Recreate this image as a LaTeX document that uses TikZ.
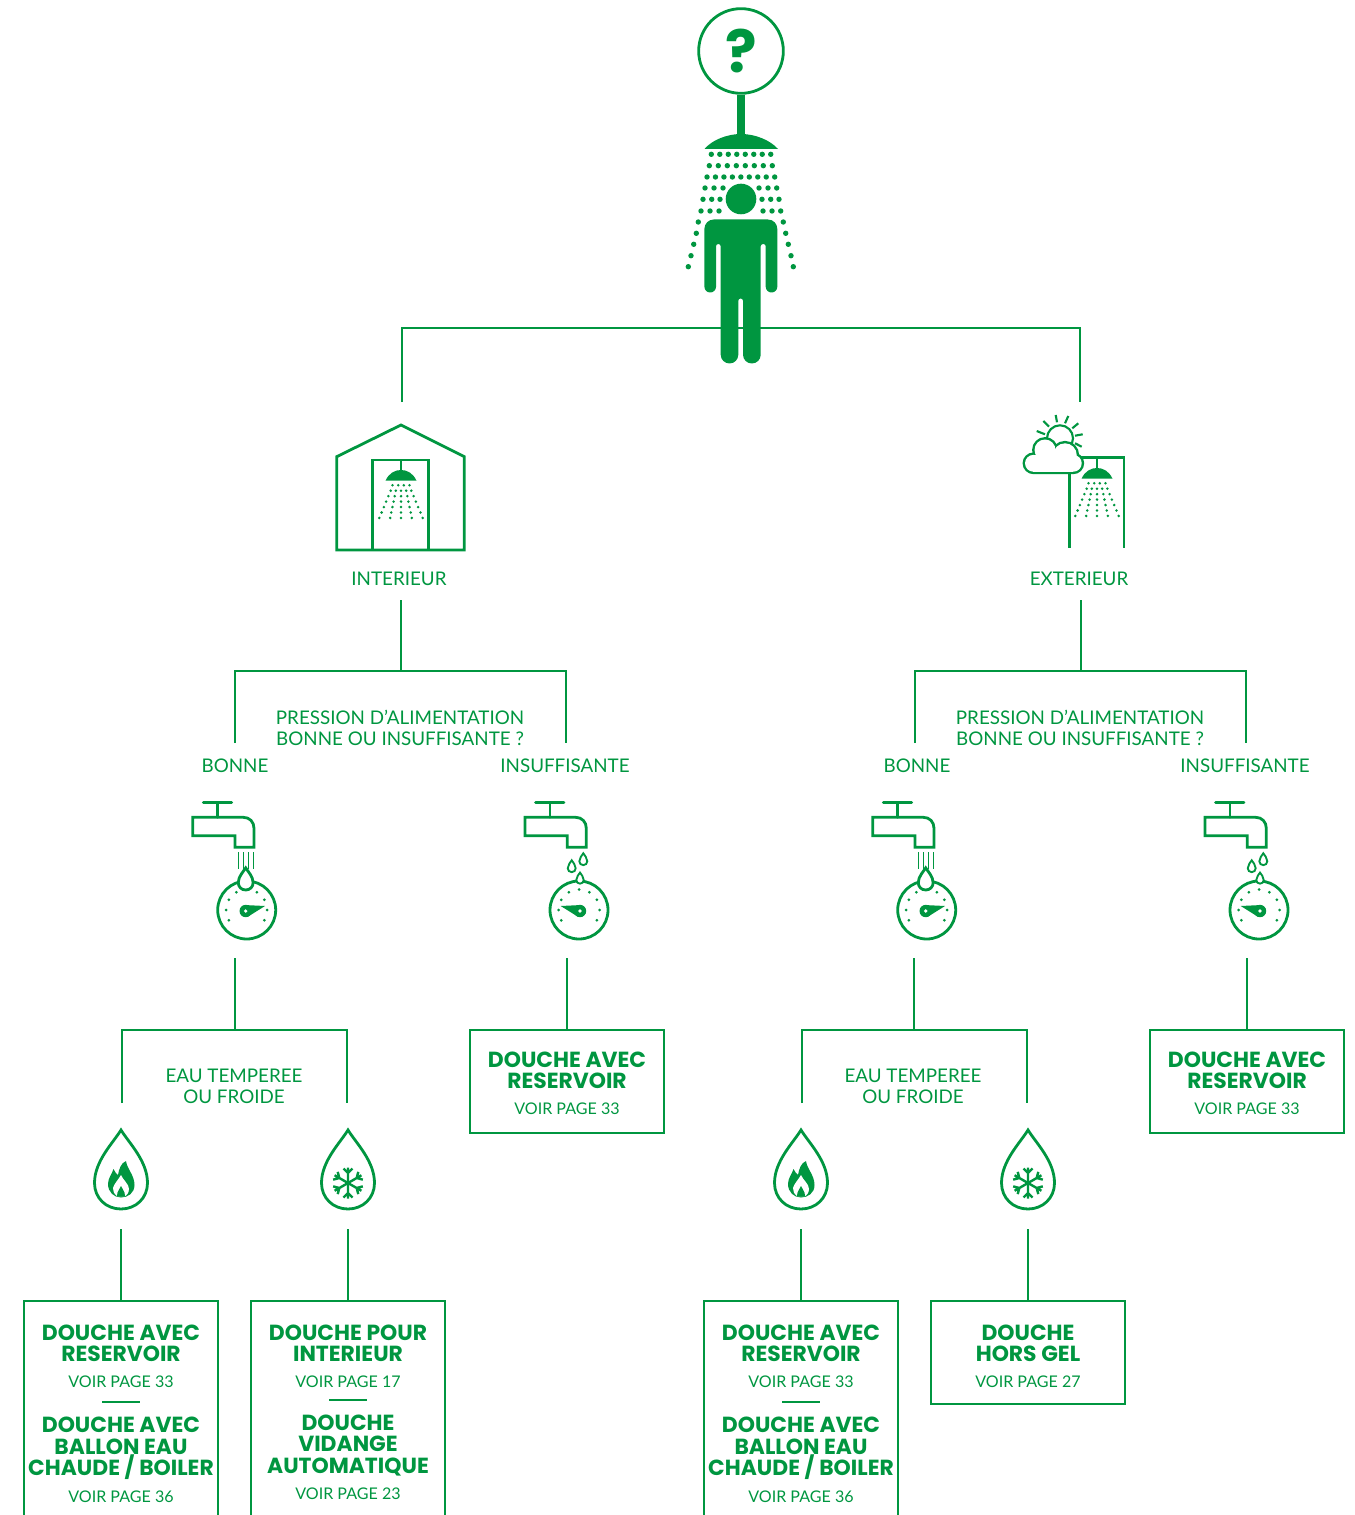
\documentclass[tikz,border=0pt]{standalone}
\usepackage{fontspec}
\setmainfont{Lato}
\newfontfamily\titlefont{Poppins}
\definecolor{showergreen}{RGB}{0,150,64}
\tikzset{
  conn/.style={draw=showergreen,line width=2.1pt},
  thinline/.style={draw=showergreen,line width=2.1pt},
  sprayline/.style={draw=showergreen,line width=1.5pt},
  qlabel/.style={text=showergreen,inner sep=0pt,align=center,font=\fontsize{14.1}{15.75}\selectfont},
  restitle/.style={text=showergreen,inner sep=0pt,align=center,font=\titlefont\bfseries\fontsize{16.4}{16}\selectfont},
  resref/.style={text=showergreen,inner sep=0pt,font=\fontsize{12.05}{14}\selectfont},
  resbox/.style={conn,rectangle,anchor=north,outer sep=0pt,inner sep=0pt,minimum width=145.5pt},
  dropshape/.style={insert path={(0,-53) .. controls (-8,-40) and (-26.5,-22) .. (-26.5,0) .. controls (-26.5,15) and (-15,26) .. (0,26) .. controls (15,26) and (26.5,15) .. (26.5,0) .. controls (26.5,-22) and (8,-40) .. (0,-53) -- cycle}},
  sprayhead/.pic={
    \fill[showergreen] (-15.5,10.7) .. controls (-12,3) and (-6,0) .. (0,0) .. controls (6,0) and (12,3) .. (15.5,10.7) -- cycle;
    \foreach \x in {-8.5,-2.8,2.8,8.5} \fill[showergreen] (\x,15.3) circle (1.4);
    \foreach \k [evaluate=\k as \d using 5.17+\k*1.133, evaluate=\k as \y using 20.7+\k*5.45] in {0,...,5}
      \foreach \n in {-2,...,2} \fill[showergreen] (\n*\d,\y) circle (1.4);
  },
  gauge/.pic={
    \draw[thinline,fill=white] (0,1) circle (29);
    \foreach \a in {-210,-180,-150,-120,-90,-60,-30,0,30} \fill[showergreen] ([yshift=-.75pt]\a:20.5) circle (1.5);
    \begin{scope}[xscale=#1]
      \fill[showergreen] (18.3,-3) -- (-2.5,-4) -- (1,7.8) -- cycle;
      \fill[showergreen] (-1,2) circle (6.2);
      \fill[white] (-1,2) circle (1.8);
    \end{scope}
  },
  tapbody/.pic={
    \draw[thinline,line cap=round] (-43.4,-106.3) -- (-15,-106.3) (-29,-106.3) -- (-29,-91.7);
    \draw[thinline] (-54,-91.7) -- (-3.4,-91.7) .. controls (3,-91.7) and (7.3,-87) .. (7.3,-80.7) -- (7.3,-61.7) -- (-11.7,-61.7) -- (-11.7,-73.3) -- (-54,-73.3) -- cycle;
  },
  tapgood/.pic={
    \pic at (0,0) {tapbody};
    \foreach \x in {-8.4,-3.4,1.6,6.6} \draw[draw=showergreen,line width=.9pt] (\x,-57) -- (\x,-40);
    \pic at (0,0) {gauge=1};
    \draw[thinline,fill=white,shift={(-1,-26.3)},scale=.28,dropshape];
  },
  tapweak/.pic={
    \pic at (0,0) {tapbody};
    \pic at (0,0) {gauge=-1};
    \draw[conn,line width=1.4pt,fill=white,shift={(4.3,-47.75)},scale=.15,dropshape];
    \draw[conn,line width=1.4pt,fill=white,shift={(-7.3,-40.75)},scale=.15,dropshape];
    \draw[conn,line width=1.4pt,fill=white,shift={(1,-29)},scale=.14,dropshape];
  },
  hotdrop/.pic={
    \draw[conn,dropshape];
    \fill[showergreen] (5,-22) .. controls (6,-14) and (13.5,-8) .. (13.5,2) .. controls (13.5,10) and (7,14.5) .. (0,14.5) .. controls (-7,14.5) and (-13,9) .. (-13,1) .. controls (-13,-5) and (-9,-9) .. (-7.5,-14) .. controls (-6,-11) and (-4.5,-9) .. (-3,-8) .. controls (-2,-14) and (0,-20) .. (5,-22) -- cycle;
    \fill[white] (0,-8) .. controls (2,-3) and (8,1) .. (8,6) .. controls (8,10) and (5,13) .. (4,13) -- (-4,13) .. controls (-7,11) and (-8,8) .. (-8,5) .. controls (-7,1) and (-3,-3) .. (0,-8) -- cycle;
    \fill[showergreen] (0,3) .. controls (1,6) and (4,8) .. (4,13) -- (-4,13) .. controls (-4,8) and (-1,6) .. (0,3) -- cycle;
  },
  colddrop/.pic={
    \draw[conn,dropshape];
    \foreach \a in {0,60,120,180,240,300}
      \draw[draw=showergreen,line width=1.8pt,rotate=\a] (0,0) -- (0,-15.5) (-4.5,-14.5) -- (0,-10) -- (4.5,-14.5);
  }
}
\begin{document}
\begin{tikzpicture}[x=.75pt,y=-.75pt]
\useasboundingbox (0,0) rectangle (1354,1515);
\clip (0,0) rectangle (1354,1515);

\coordinate (barmid) at (741,328);
\coordinate (intin) at (402,402);
\coordinate (extin) at (1080,402);
\draw[conn] (intin) |- (barmid) -| (extin);

\node (question) [circle,conn,fill=white,minimum size=63.5pt,inner sep=0pt,text=showergreen,font=\titlefont\bfseries\fontsize{44}{44}\selectfont] at (741,51) {?};
\coordinate (showertop) at (741,140);
\draw[draw=showergreen,line width=6.4pt] (question) -- (showertop);
\fill[showergreen] (704.5,149) .. controls (712,140) and (727,134) .. (741,134) .. controls (755,134) and (770,140) .. (778,149) -- cycle;
\foreach \x in {0,...,7} \fill[showergreen] (711.3+\x*8.49,154.3) circle (2.7);
\foreach \x in {0,...,7} \fill[showergreen] (709.3+\x*9,165.7) circle (2.7);
\foreach \x in {0,...,8} \fill[showergreen] (707+\x*8.46,177) circle (2.7);
\foreach \x/\y in {705/188,714/188,723/188,759/188,768/188,776.7/188,703/199.3,711.7/199.3,720/199.3,762/199.3,770.7/199.3,779/199.3,701/211,710/211,719/211,763/211,772/211,780.7/211,698.3/222,696.3/233.3,693.7/244.3,691/255.7,688.3/266.7,783.3/222,785.7/233.3,788.3/244.3,791/255.7,793.3/266.7}
  \fill[showergreen] (\x,\y) circle (2.7);
\fill[showergreen] (741,199) circle (15.3);
\fill[showergreen,rounded corners=7pt] (704.4,219.5) -- (777.3,219.5) [rounded corners=4.3pt] -- (777.3,292.5) -- (765.7,292.5) [rounded corners=1.7pt] -- (765.7,244) -- (760.7,244) [rounded corners=6.6pt] -- (760.7,363.5) -- (743,363.5) [rounded corners=1.7pt] -- (743,298.5) -- (738.3,298.5) [rounded corners=6.6pt] -- (738.3,363.5) -- (720.7,363.5) [rounded corners=1.7pt] -- (720.7,244) -- (716,244) [rounded corners=4.3pt] -- (716,292.5) -- (704.4,292.5) [rounded corners=7pt] -- cycle;

\draw[conn] (401,425) -- (464.3,456.7) -- (464.3,550) -- (336.7,550) -- (336.7,456.7) -- cycle;
\draw[conn] (372.7,550) -- (372.7,460) -- (428.3,460) -- (428.3,550);
\draw[sprayline] (401,460) -- (401,470);
\pic at (401,470) {sprayhead};
\node (intlabel) [qlabel] at (399,579) {INTERIEUR};

\draw[conn] (1069.7,547.7) -- (1069.7,457.3) -- (1124,457.3) -- (1124,547.7);
\draw[sprayline] (1097,457.3) -- (1097,468);
\pic at (1097,468) {sprayhead};
\draw[draw=showergreen,line width=1.6pt] (1060,438.3) circle (13) (1036.7,431) -- (1045,434.3) (1043.3,421) -- (1049,426.7) (1055.7,415) -- (1057,422.3) (1068.3,416) -- (1065,423.3) (1078.3,423.3) -- (1072.3,428.3) (1082.7,434.3) -- (1075,435.7) (1081.7,446.7) -- (1075,443.3);
\draw[draw=showergreen,line width=3.6pt] (1033.4,463.3) circle (8.4) (1045,450) circle (10.5) (1065,455) circle (11.7) (1073.3,463.3) circle (8.4) (1033,471.7) -- (1073,471.7);
\foreach \x/\y/\r in {1033.4/463.3/8.4,1045/450/10.5,1065/455/11.7,1073.3/463.3/8.4}
  \fill[white] (\x,\y) circle (\r);
\fill[white] (1033,455) rectangle (1073,471.7);
\node (extlabel) [qlabel] at (1079,579) {EXTERIEUR};

\coordinate (intout) at (401,600);
\coordinate (intsplit) at (401,671);
\coordinate (intgood) at (235,743);
\coordinate (intweak) at (566,743);
\draw[conn] (intout) -- (intsplit);
\draw[conn] (intgood) |- (intsplit) -| (intweak);
\node (intpress) [qlabel] at (400,728) {PRESSION D’ALIMENTATION\\BONNE OU INSUFFISANTE ?};
\node (intgoodlabel) [qlabel] at (235,766) {BONNE};
\node (intweaklabel) [qlabel] at (565,766) {INSUFFISANTE};

\coordinate (extout) at (1081,600);
\coordinate (extsplit) at (1081,671);
\coordinate (extgood) at (915,743);
\coordinate (extweak) at (1246,743);
\draw[conn] (extout) -- (extsplit);
\draw[conn] (extgood) |- (extsplit) -| (extweak);
\node (extpress) [qlabel] at (1080,728) {PRESSION D’ALIMENTATION\\BONNE OU INSUFFISANTE ?};
\node (extgoodlabel) [qlabel] at (917,766) {BONNE};
\node (extweaklabel) [qlabel] at (1245,766) {INSUFFISANTE};

\pic at (246.7,909) {tapgood};
\pic at (579,909) {tapweak};
\pic at (926.7,909) {tapgood};
\pic at (1259,909) {tapweak};

\coordinate (intgoodout) at (235,958);
\coordinate (intgoodsplit) at (235,1030);
\coordinate (inthot) at (122,1103);
\coordinate (intcold) at (347,1103);
\draw[conn] (intgoodout) -- (intgoodsplit);
\draw[conn] (inthot) |- (intgoodsplit) -| (intcold);
\node (inttemp) [qlabel] at (234,1086.5) {EAU TEMPEREE\\OU FROIDE};

\coordinate (extgoodout) at (914,958);
\coordinate (extgoodsplit) at (914,1030);
\coordinate (exthot) at (802,1103);
\coordinate (extcold) at (1027,1103);
\draw[conn] (extgoodout) -- (extgoodsplit);
\draw[conn] (exthot) |- (extgoodsplit) -| (extcold);
\node (exttemp) [qlabel] at (913,1086.5) {EAU TEMPEREE\\OU FROIDE};

\coordinate (intweakout) at (567,958);
\node (intweakbox) [resbox,minimum height=77.25pt] at (567,1030) {};
\draw[conn] (intweakout) -- (intweakbox.north);
\node (intweaktitle) [restitle] at (567,1070) {DOUCHE AVEC\\RESERVOIR};
\node (intweakref) [resref] at (567,1109) {VOIR PAGE 33};

\coordinate (extweakout) at (1247,958);
\node (extweakbox) [resbox,minimum height=77.25pt] at (1247,1030) {};
\draw[conn] (extweakout) -- (extweakbox.north);
\node (extweaktitle) [restitle] at (1247,1070) {DOUCHE AVEC\\RESERVOIR};
\node (extweakref) [resref] at (1247,1109) {VOIR PAGE 33};

\pic at (121,1183) {hotdrop};
\pic at (348,1183) {colddrop};
\pic at (801,1183) {hotdrop};
\pic at (1028,1183) {colddrop};

\coordinate (inthotout) at (121,1229);
\node (inthotbox) [resbox,minimum height=172.5pt] at (121,1301) {};
\draw[conn] (inthotout) -- (inthotbox.north);
\node (inthottitlea) [restitle] at (121,1343) {DOUCHE AVEC\\RESERVOIR};
\node (inthotrefa) [resref] at (121,1382) {VOIR PAGE 33};
\coordinate (inthotrulea) at (102,1402);
\coordinate (inthotruleb) at (140,1402);
\draw[conn] (inthotrulea) -- (inthotruleb);
\node (inthottitleb) [restitle] at (121,1448.5) {DOUCHE AVEC\\BALLON EAU\\CHAUDE / BOILER};
\node (inthotrefb) [resref] at (121,1497) {VOIR PAGE 36};

\coordinate (intcoldout) at (348,1229);
\node (intcoldbox) [resbox,minimum height=172.5pt] at (348,1301) {};
\draw[conn] (intcoldout) -- (intcoldbox.north);
\node (intcoldtitlea) [restitle] at (348,1343) {DOUCHE POUR\\INTERIEUR};
\node (intcoldrefa) [resref] at (348,1382) {VOIR PAGE 17};
\coordinate (intcoldrulea) at (329,1400);
\coordinate (intcoldruleb) at (367,1400);
\draw[conn] (intcoldrulea) -- (intcoldruleb);
\node (intcoldtitleb) [restitle] at (348,1445.5) {DOUCHE\\VIDANGE\\AUTOMATIQUE};
\node (intcoldrefb) [resref] at (348,1494) {VOIR PAGE 23};

\coordinate (exthotout) at (801,1229);
\node (exthotbox) [resbox,minimum height=172.5pt] at (801,1301) {};
\draw[conn] (exthotout) -- (exthotbox.north);
\node (exthottitlea) [restitle] at (801,1343) {DOUCHE AVEC\\RESERVOIR};
\node (exthotrefa) [resref] at (801,1382) {VOIR PAGE 33};
\coordinate (exthotrulea) at (782,1402);
\coordinate (exthotruleb) at (820,1402);
\draw[conn] (exthotrulea) -- (exthotruleb);
\node (exthottitleb) [restitle] at (801,1448.5) {DOUCHE AVEC\\BALLON EAU\\CHAUDE / BOILER};
\node (exthotrefb) [resref] at (801,1497) {VOIR PAGE 36};

\coordinate (extcoldout) at (1028,1229);
\node (extcoldbox) [resbox,minimum height=77.25pt] at (1028,1301) {};
\draw[conn] (extcoldout) -- (extcoldbox.north);
\node (extcoldtitle) [restitle] at (1028,1343) {DOUCHE\\HORS GEL};
\node (extcoldref) [resref] at (1028,1382) {VOIR PAGE 27};
\end{tikzpicture}
\end{document}
